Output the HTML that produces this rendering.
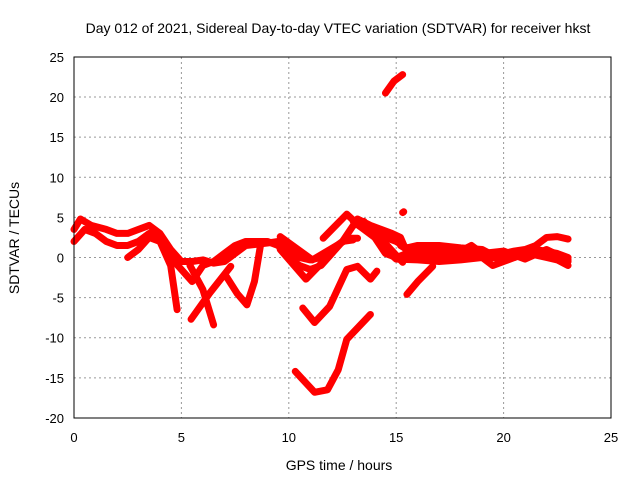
<!DOCTYPE html>
<html><head><meta charset="utf-8"><style>
body{margin:0;background:#fff}
svg{display:block;font-family:"Liberation Sans",sans-serif}
</style></head><body>
<svg id="chart" width="640" height="480">
<text x="338" y="33" font-size="14" text-anchor="middle">Day 012 of 2021, Sidereal Day-to-day VTEC variation (SDTVAR) for receiver hkst</text>
<text x="339" y="470" font-size="14" text-anchor="middle">GPS time / hours</text>
<text transform="translate(19,238) rotate(-90)" font-size="14" text-anchor="middle">SDTVAR / TECUs</text>
<g id="grid"></g><g id="ticks"></g><g id="marks"></g>
<rect x="74" y="57" width="537" height="361" fill="none" stroke="#000" stroke-width="1"/>
</svg>
<script>
const xTicks=[0,5,10,15,20,25];
const yTicks=[25,20,15,10,5,0,-5,-10,-15,-20];
const track1=[[0,3.5],[0.3,4.8],[0.8,4],[1.5,3.5],[2,3],[2.5,3],[3,3.5],[3.5,4],[4,3],[4.5,1],[5,-0.5],[5.5,-0.5],[6,-0.3],[6.5,-0.7],[7,-0.5],[7.5,0.5],[8,1.5],[9,1.8],[9.5,2],[10,1],[10.5,0],[11,-0.3],[11.5,0],[12,1],[12.5,2],[13,2.2]];
const track2=[[0,2],[0.5,3.5],[1,3],[1.5,2],[2,1.5],[2.5,1.5],[3,2],[3.5,3],[4,2],[4.5,0],[5,-1.5],[5.5,-3],[6,-1],[6.5,-0.5],[7,0.5],[7.5,1.5],[8,2],[9,2],[9.5,1.5],[10,0],[10.5,-1],[11,-1.5],[11.5,-1],[12,0.5],[12.5,2],[13,4],[13.5,4.5]];
const track3=[[2.5,0],[3,1],[3.5,2.5],[4,2],[4.5,-1],[4.8,-6.5]];
const track4=[[5.45,-7.7],[6.3,-4.5],[7.3,-1.1]];
const track5=[[5.4,-1],[6,-4],[6.5,-8.4]];
const track6=[[7.1,-2.4],[7.6,-4.5],[8.05,-5.9],[8.4,-3],[8.7,1.8]];
const track7=[[10.65,-6.3],[11.2,-8.1],[11.9,-6.1],[12.7,-1.5],[13.2,-1.1],[13.8,-2.7],[14.1,-1.7]];
const track8=[[10.3,-14.2],[11.2,-16.8],[11.8,-16.5],[12.3,-14],[12.7,-10.2],[13.8,-7.1]];
const track9=[[11.6,2.4],[12.7,5.4],[13.3,3.9],[14.2,2.6],[15.3,-0.6]];
const track10=[[9.6,2.6],[11.1,-0.3],[12.8,2.4],[13.2,2.4]];
const track11=[[9.6,1],[10.8,-2.7],[11.6,-0.5]];
const track12=[[14,3],[14.5,2.5],[15,2],[15.5,1.2],[16,1.5],[17,1.5],[18,1.2],[19,1],[19.5,0.3],[20,0.5],[20.5,0.8],[21,1],[21.5,1.5],[22,2.5],[22.5,2.6],[23,2.3]];
const track13=[[14.5,1],[15,-0.2],[16,-0.3],[17,-0.5],[18,-0.3],[19,0],[19.5,-1],[20,-0.5],[21,0.5],[21.5,0.3],[22,0],[22.5,-0.3],[23,-1]];
const track14=[[13,4.5],[13.5,3.5],[14,2.5],[14.5,0.5],[15,0],[15.5,0.5],[16,1],[17,0.5],[18,0.5],[19,0],[20,0],[21,0.2],[21.5,0.8],[22,0.5],[22.5,0],[23,-0.5]];
const track15=[[15.5,-4.6],[16,-3],[16.7,-1.1]];
const track16=[[14.5,20.5],[14.9,22],[15.3,22.8]];
const track17=[[15.3,5.6],[15.35,5.7]];
const track18=[[13.2,4.8],[13.8,4],[14.3,3.5],[14.8,3],[15.2,2.5],[15.6,0],[16.5,0.8],[17.5,1],[18.5,0.3],[19.5,0.5],[20.5,0],[21.5,1],[22.5,0.5],[23,0]];
const track19=[[15.2,1.5],[16,0.2],[17,-0.2],[18,0.8],[18.5,1.5],[19,0.5],[20,0.8],[21,-0.2],[22,1],[23,-0.3]];
const tracks=[track1,track2,track3,track4,track5,track6,track7,track8,track9,track10,track11,track12,track13,track14,track15,track16,track17,track18,track19];
const X=h=>74+h*(537/25), Y=v=>257.5-v*(361/45);
const NS="http://www.w3.org/2000/svg";
const grid=document.getElementById('grid'),ticks=document.getElementById('ticks'),marks=document.getElementById('marks');
function mk(t,a,p){const e=document.createElementNS(NS,t);for(const k in a)e.setAttribute(k,a[k]);p.appendChild(e);return e;}
xTicks.forEach(t=>{
 const x=X(t);
 if(t>0&&t<25){const g=mk('line',{x1:x,x2:x,y1:57,y2:418,stroke:'#999','stroke-dasharray':'2,3'},grid);
 
 }
 const l=mk('text',{x:x,y:442,'font-size':13,'text-anchor':'middle'},ticks);l.textContent=t;
 
 
});
yTicks.forEach(t=>{
 const y=Y(t);
 if(t>-20&&t<25){const g=mk('line',{x1:74,x2:611,y1:y,y2:y,stroke:'#999','stroke-dasharray':'2,3'},grid);
 
 }
 const l=mk('text',{x:64,y:y+5,'font-size':13,'text-anchor':'end'},ticks);l.textContent=t;
 
 
});
tracks.forEach(tr=>{
 const p=mk('polyline',{points:tr.map(d=>X(d[0])+','+Y(d[1])).join(' '),fill:'none',stroke:'#f00','stroke-width':7,'stroke-linejoin':'round','stroke-linecap':'round'},marks);
 
 
});
</script>
</body></html>
